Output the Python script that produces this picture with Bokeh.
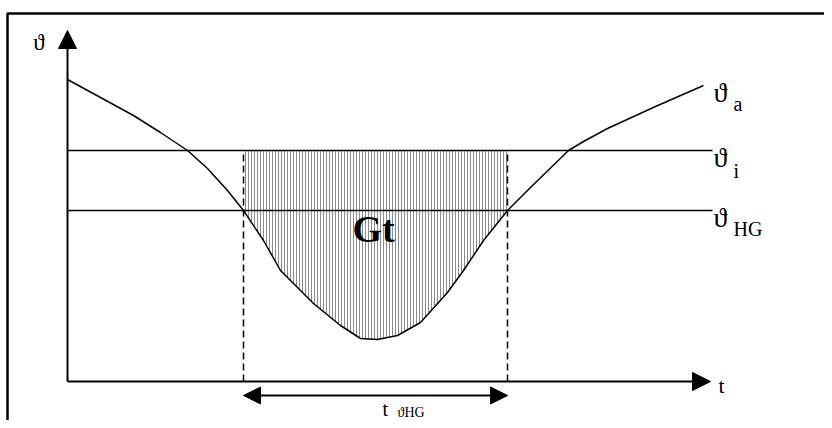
import numpy as np
from bokeh.plotting import figure
from bokeh.models import Range1d, Arrow, NormalHead
from bokeh.core.properties import value
from bokeh.embed import file_html
from bokeh.resources import INLINE

# ---- data (schematic units: t in time units, theta in temperature units) ----
curve_t = [0.0, 3.3, 6.6, 9.3, 12.0, 14.0, 16.0, 17.6, 19.6, 21.3, 24.6, 27.3, 29.3, 31.0,
           33.0, 35.3, 38.0, 39.6, 41.6, 44.0, 46.3, 50.1, 51.6, 54.0, 58.8, 63.6]
curve_theta = [30.2, 28.4, 26.6, 24.9, 23.1, 21.3, 19.1, 17.1, 14.1, 11.1, 7.8, 5.6, 4.3, 4.2,
               4.6, 5.9, 8.9, 11.1, 14.1, 17.1, 19.4, 23.1, 24.0, 25.3, 27.5, 29.6]
theta_i = 23.1
theta_hg = 17.1
t_hg_start = 17.6
t_hg_end = 44.0
t_axis_end = 64.3
theta_axis_end = 35.1
line_end = 64.5
labels_main = ["\u03d1", "\u03d1", "\u03d1"]
labels_sub = ["a", "i", "HG"]

FONT = "Liberation Serif"

p = figure(width=824, height=420, x_range=Range1d(-6.7, 75.7), y_range=Range1d(-3.9, 38.1),
           output_backend="svg", toolbar_location=None, min_border=0,
           x_axis_type=None, y_axis_type=None, outline_line_color=None)
p.grid.visible = False
p.background_fill_color = "white"
p.border_fill_color = "white"

# frame border (top + left)
p.line([75.7, -6.0, -6.0], [36.8, 36.8, -3.9], line_color="black", line_width=2.5)

# hatched area between theta_i and the curve
ct = np.array(curve_t)
cth = np.array(curve_theta)
mask = (ct >= t_hg_start) & (ct <= t_hg_end)
hx = [t_hg_start] + list(ct[mask]) + [t_hg_end]
hy = [theta_i] + list(cth[mask]) + [theta_i]
p.patch(hx, hy, fill_alpha=0, line_alpha=0, hatch_pattern="|", hatch_color="#8a8a8a",
        hatch_scale=3, hatch_weight=1, hatch_alpha=1)

# horizontal reference lines
p.line([0, line_end], [theta_i, theta_i], line_color="black", line_width=1.5)
p.line([0, line_end], [theta_hg, theta_hg], line_color="black", line_width=1.5)

# dashed verticals
for tv in (t_hg_start, t_hg_end):
    p.line([tv, tv], [0, theta_i], line_color="black", line_width=1.5, line_dash="7 4")

# curve
p.line(curve_t, curve_theta, line_color="black", line_width=1.5)

# axes with arrows
p.add_layout(Arrow(x_start=0, y_start=0, x_end=0, y_end=theta_axis_end, line_width=2,
                   end=NormalHead(size=18, fill_color="black", line_color="black")))
p.add_layout(Arrow(x_start=0, y_start=0, x_end=t_axis_end, y_end=0, line_width=2,
                   end=NormalHead(size=18, fill_color="black", line_color="black")))

# double arrow for duration
p.add_layout(Arrow(x_start=t_hg_start, y_start=-1.4, x_end=t_hg_end, y_end=-1.4, line_width=2,
                   start=NormalHead(size=17, fill_color="black", line_color="black"),
                   end=NormalHead(size=17, fill_color="black", line_color="black")))

# labels on the right
main_y = [28.9, 22.4, 16.4]
sub_y = [27.8, 21.1, 15.3]
p.text(x=[64.6] * 3, y=main_y, text=labels_main, text_font=value(FONT), text_font_size="28px",
       text_baseline="alphabetic", text_align="left", text_color="black")
p.text(x=[66.6] * 3, y=sub_y, text=labels_sub, text_font=value(FONT), text_font_size="20px",
       text_baseline="alphabetic", text_align="left", text_color="black")

# axis labels
p.text(x=[-2.85], y=[33.9], text=["\u03d1"], text_font=value(FONT), text_font_size="23px",
       text_baseline="alphabetic", text_align="center", text_color="black")
p.text(x=[65.1], y=[-0.4], text=["t"], text_font=value(FONT), text_font_size="22px",
       text_baseline="alphabetic", text_align="left", text_color="black")

# Gt
p.text(x=[30.6], y=[15.3], text=["Gt"], text_font=value(FONT), text_font_size="38px",
       text_font_style="bold", text_baseline="alphabetic", text_align="center", text_color="black")

# duration label
p.text(x=[31.5], y=[-2.7], text=["t"], text_font=value(FONT), text_font_size="20px",
       text_baseline="alphabetic", text_align="left", text_color="black")
p.text(x=[33.0], y=[-3.1], text=["\u03d1HG"], text_font=value(FONT), text_font_size="14px",
       text_baseline="alphabetic", text_align="left", text_color="black")

open("out.html", "w").write(file_html(p, INLINE))
